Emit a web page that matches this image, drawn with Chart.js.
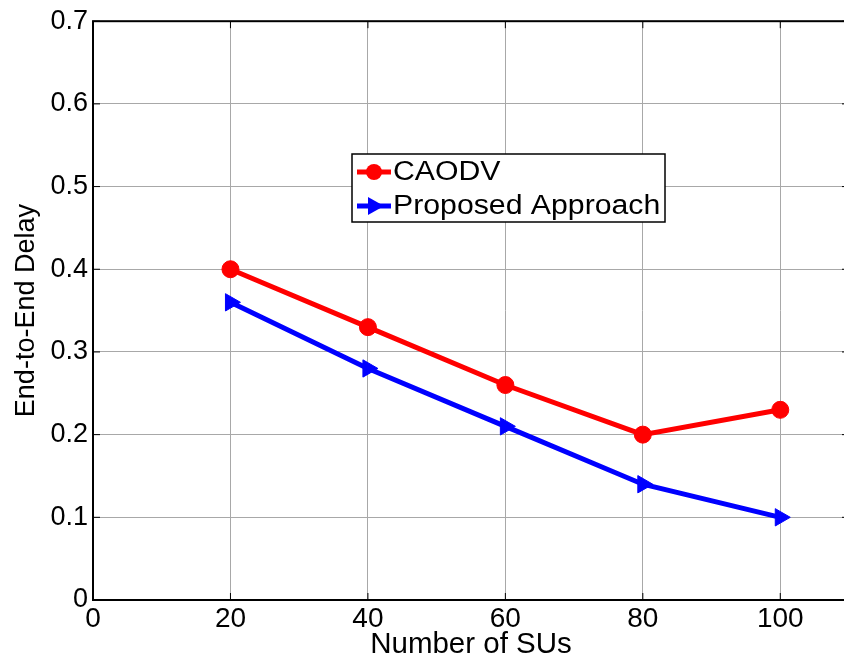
<!DOCTYPE html>
<html>
<head>
<meta charset="utf-8">
<script src="https://cdn.jsdelivr.net/npm/chart.js@4.4.1/dist/chart.umd.min.js"></script>
<style>
  html, body { margin: 0; padding: 0; background: #fff; overflow: hidden; }
  #wrap { width: 860px; height: 658px; }
</style>
</head>
<body>
<div id="wrap"><canvas id="delayChart"></canvas></div>
<script>
var numSUs = [20, 40, 60, 80, 100];
var caodvDelay = [0.40, 0.33, 0.26, 0.20, 0.23];
var proposedDelay = [0.36, 0.28, 0.21, 0.14, 0.10];
var xTicks = [0, 20, 40, 60, 80, 100];
var yTicks = [0, 0.1, 0.2, 0.3, 0.4, 0.5, 0.6, 0.7];

var FONT = "'Liberation Sans', Arial, sans-serif";

function toPoints(xs, ys) {
  return xs.map(function (x, i) { return { x: x, y: ys[i] }; });
}

// box frame, inward ticks and the legend box
var framePlugin = {
  id: 'frame',
  afterDraw: function (chart) {
    var c = chart.ctx, a = chart.chartArea;
    var xs = chart.scales.x, ys = chart.scales.y;
    c.save();
    c.strokeStyle = '#000';
    c.lineWidth = 2;
    c.strokeRect(a.left, a.top, a.right - a.left, a.bottom - a.top);
    c.lineWidth = 1;
    c.beginPath();
    xTicks.forEach(function (v) {
      var px = xs.getPixelForValue(v);
      c.moveTo(px, a.bottom); c.lineTo(px, a.bottom - 7);
      c.moveTo(px, a.top); c.lineTo(px, a.top + 7);
    });
    yTicks.forEach(function (v) {
      var py = ys.getPixelForValue(v);
      c.moveTo(a.left, py); c.lineTo(a.left + 7, py);
      c.moveTo(a.right, py); c.lineTo(a.right - 7, py);
    });
    c.stroke();

    // legend
    var bx = 352, by = 154, bw = 313, bh = 68;
    c.fillStyle = '#fff';
    c.fillRect(bx, by, bw, bh);
    c.lineWidth = 1.5;
    c.strokeStyle = '#000';
    c.strokeRect(bx, by, bw, bh);
    chart.data.datasets.forEach(function (ds, i) {
      var cy = by + 18 + i * 34;
      c.strokeStyle = ds.borderColor;
      c.lineWidth = 5;
      c.beginPath();
      c.moveTo(bx + 5, cy); c.lineTo(bx + 39, cy);
      c.stroke();
      c.fillStyle = ds.borderColor;
      c.beginPath();
      if (ds.pointStyle === 'circle') {
        c.arc(bx + 22, cy, 8, 0, Math.PI * 2);
      } else {
        c.moveTo(bx + 32, cy);
        c.lineTo(bx + 16, cy - 9);
        c.lineTo(bx + 16, cy + 9);
        c.closePath();
      }
      c.fill();
      c.save();
      c.translate(bx + 41, cy + 1);
      c.scale(1.12, 1);
      c.fillStyle = '#000';
      c.font = '27px ' + FONT;
      c.textBaseline = 'middle';
      c.textAlign = 'left';
      c.fillText(ds.label, 0, 0);
      c.restore();
    });
    c.restore();
  }
};

var ctx = document.getElementById('delayChart');
var delayChart = new Chart(ctx, {
  type: 'line',
  data: {
    datasets: [{
      label: 'CAODV',
      data: toPoints(numSUs, caodvDelay),
      borderColor: '#ff0000',
      backgroundColor: '#ff0000',
      borderWidth: 5,
      pointStyle: 'circle',
      pointRadius: 8.5,
      pointBorderWidth: 1,
      tension: 0
    }, {
      label: 'Proposed Approach',
      data: toPoints(numSUs, proposedDelay),
      borderColor: '#0000ff',
      backgroundColor: '#0000ff',
      borderWidth: 5,
      pointStyle: 'triangle',
      rotation: 90,
      pointRadius: 10,
      pointBorderWidth: 1,
      tension: 0
    }]
  },
  options: {
    responsive: true,
    maintainAspectRatio: false,
    animation: false,
    layout: { padding: { top: 18, right: 10, left: 0, bottom: 0 } },
    plugins: {
      legend: { display: false },
      tooltip: { enabled: false }
    },
    scales: {
      x: {
        type: 'linear',
        min: 0,
        max: 110,
        afterBuildTicks: function (s) { s.ticks = xTicks.map(function (v) { return { value: v }; }); },
        afterFit: function (s) { s.height = 58; },
        grid: { color: '#a8a8a8', lineWidth: 1, drawTicks: false },
        border: { display: false },
        ticks: { color: '#000', font: { family: FONT, size: 28 }, padding: 2, maxRotation: 0 },
        title: { display: true, text: 'Number of SUs', color: '#000', font: { family: FONT, size: 29.5 }, padding: { top: 0, bottom: -5 } }
      },
      y: {
        min: 0,
        max: 0.7,
        afterBuildTicks: function (s) { s.ticks = yTicks.map(function (v) { return { value: v }; }); },
        afterFit: function (s) { s.width = 93; },
        grid: { color: '#a8a8a8', lineWidth: 1, drawTicks: false },
        border: { display: false },
        ticks: { color: '#000', font: { family: FONT, size: 27 }, padding: 5,
          callback: function (v) { return v === 0 ? '0' : v.toFixed(1); } },
        title: { display: true, text: 'End-to-End Delay', color: '#000', font: { family: FONT, size: 27 }, padding: { top: 10, bottom: 0 } }
      }
    }
  },
  plugins: [framePlugin]
});
</script>
</body>
</html>
